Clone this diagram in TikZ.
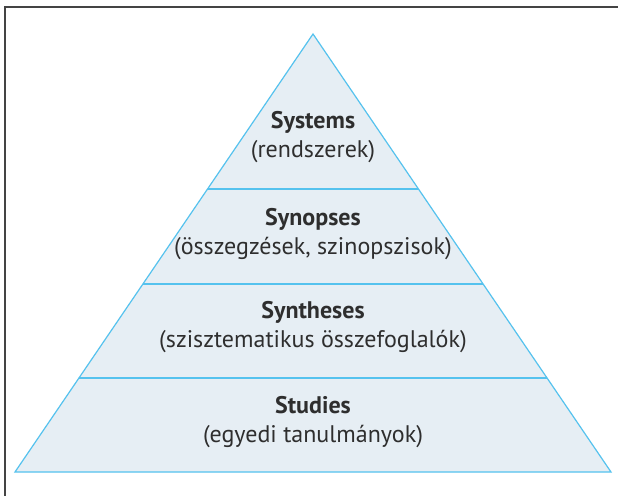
\documentclass[tikz,border=0pt]{standalone}
\usepackage{fontspec}
\setmainfont{PT Sans}
\definecolor{tierfill}{HTML}{E6EEF4}
\definecolor{tierline}{HTML}{55C2EE}
\definecolor{frameline}{HTML}{444444}
\definecolor{txt}{HTML}{2E2E2E}
\begin{document}
\begin{tikzpicture}[x=1bp,y=-1bp,
  tier/.style={fill=tierfill,draw=tierline,line width=1.2bp,line join=miter},
  label/.style={align=center,text=txt,font=\fontsize{24bp}{29.5bp}\selectfont,inner sep=0pt},
  frame/.style={draw=frameline,line width=1.3bp}]
\useasboundingbox (0,0) rectangle (618,496);
\fill[white] (0,0) rectangle (618,496);
\coordinate (fa) at (618,7);
\coordinate (fb) at (5,7);
\coordinate (fc) at (5,496);
\draw[frame] (fa) -- (fb) -- (fc);
% pyramid
\coordinate (apex) at (313,34);
\coordinate (bl) at (15,472);
\coordinate (br) at (611,472);
\path[tier] (apex) -- (bl) -- (br) -- cycle;
\foreach \y/\n in {189/a,284/b,378/c}{
  \pgfmathsetmacro{\hw}{(\y-34)/438*298}
  \coordinate (l\n) at ({313-\hw},\y);
  \coordinate (r\n) at ({313+\hw},\y);
  \draw[tierline,line width=1.2bp] (l\n) -- (r\n);
}
\node[label] (systems) at (313,137) {\textbf{Systems}\\(rendszerek)};
\node[label] (synopses) at (313,234) {\textbf{Synopses}\\(összegzések, szinopszisok)};
\node[label] (syntheses) at (313,327) {\textbf{Syntheses}\\(szisztematikus összefoglalók)};
\node[label] (studies) at (313,422) {\textbf{Studies}\\(egyedi tanulmányok)};
\end{tikzpicture}
\end{document}
